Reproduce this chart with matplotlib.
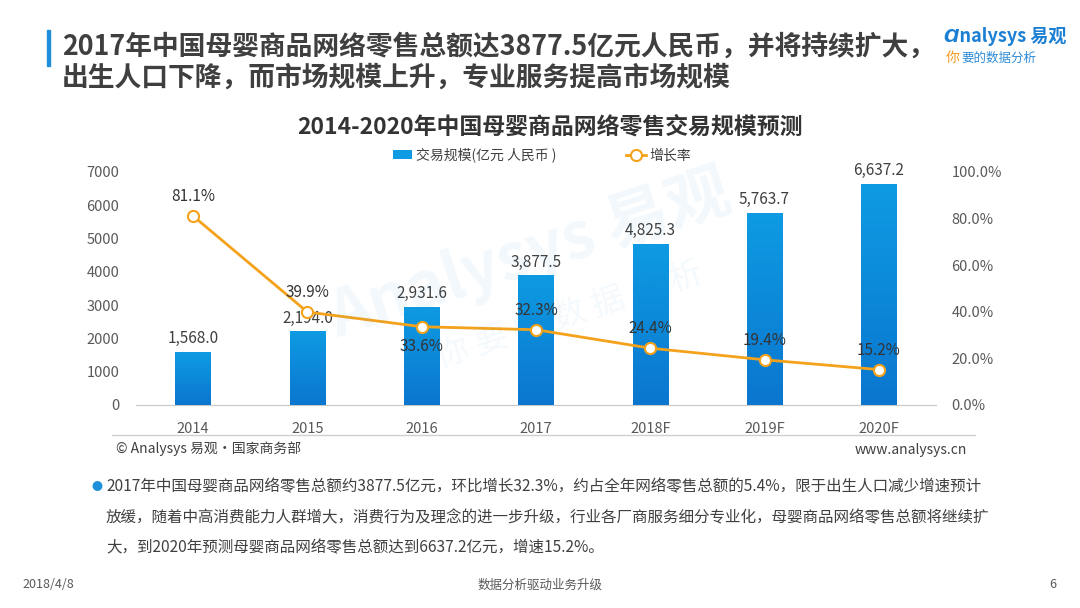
import matplotlib
matplotlib.use("Agg")

import matplotlib.pyplot as plt
import numpy as np
from matplotlib.colors import LinearSegmentedColormap

plt.rcParams['font.family'] = ['Noto Sans CJK SC', 'DejaVu Sans']

# =====================
# Data
# =====================
years = ["2014", "2015", "2016", "2017", "2018F", "2019F", "2020F"]
scale = [1568.0, 2194.0, 2931.6, 3877.5, 4825.3, 5763.7, 6637.2]
growth = [0.811, 0.399, 0.336, 0.323, 0.244, 0.194, 0.152]
growth_below = [False, False, True, False, False, False, False]

left_ticks = [0, 1000, 2000, 3000, 4000, 5000, 6000, 7000]
right_ticks = [0.0, 0.2, 0.4, 0.6, 0.8, 1.0]

BLUE_TOP = "#0E9BE3"
BLUE_BOT = "#0B76CF"
ORANGE = "#F4A21B"
TXT = "#404040"

fig = plt.figure(figsize=(10.8, 6.08), dpi=100)
W, H = 1080, 608


def fx(px):
    return px / W


def fy(py):
    return 1 - py / H


# =====================
# Header
# =====================
fig.patches.append(plt.Rectangle((fx(47), fy(66)), fx(3), 36 / H,
                                 transform=fig.transFigure, color="#1E8FD8"))
fig.text(fx(62), fy(47), "2017年中国母婴商品网络零售总额达3877.5亿元人民币，并将持续扩大，",
         fontsize=19.3, fontweight="bold", color="#3f3f3f", va="center")
fig.text(fx(62), fy(78), "出生人口下降，而市场规模上升，专业服务提高市场规模",
         fontsize=19.3, fontweight="bold", color="#3f3f3f", va="center")

# logo
fig.text(fx(944), fy(37), "Ɑnalysys 易观", fontsize=13, color="#1B7FD4",
         fontweight="bold", va="center", style="italic")
fig.text(fx(946), fy(58), "你", fontsize=10, color="#F39A1E", va="center")
fig.text(fx(961), fy(58), "要的数据分析", fontsize=9, color="#2E8BD6", va="center")

# chart title
fig.text(fx(550), fy(127), "2014-2020年中国母婴商品网络零售交易规模预测",
         fontsize=16.5, fontweight="bold", color="#333333", ha="center", va="center")

# =====================
# Axes
# =====================
ax = fig.add_axes([fx(136), fy(405), 800 / W, 233 / H])
ax2 = ax.twinx()

x = np.arange(len(years))
bar_w = 0.31
bars = ax.bar(x, scale, width=bar_w, color=BLUE_TOP, zorder=2,
              label="交易规模(亿元 人民币 )")

cmap = LinearSegmentedColormap.from_list("bl", [BLUE_BOT, BLUE_TOP])
grad = np.linspace(0, 1, 256).reshape(-1, 1)
for b in bars:
    x0, y0 = b.get_x(), b.get_y()
    ax.imshow(grad, extent=[x0, x0 + b.get_width(), y0, y0 + b.get_height()],
              origin="lower", cmap=cmap, aspect="auto", zorder=3)

for xi, v in zip(x, scale):
    ax.annotate(f"{v:,.1f}", (xi, v), xytext=(0, 10), textcoords="offset points",
                ha="center", va="center", fontsize=11, color=TXT)

ax.set_xlim(-0.5, 6.5)
ax.set_ylim(0, 7000)
ax.set_yticks(left_ticks)
ax.set_yticklabels([str(t) for t in left_ticks])
ax.set_xticks(x)
ax.set_xticklabels(years)

line, = ax2.plot(x, growth, color=ORANGE, lw=2, marker="o", ms=8,
                 mfc="white", mec=ORANGE, mew=1.5, zorder=5, label="增长率")
for xi, g, below in zip(x, growth, growth_below):
    off = -14 if below else 14
    ax2.annotate(f"{g * 100:.1f}%", (xi, g), xytext=(0, off),
                 textcoords="offset points", ha="center", va="center",
                 fontsize=11, color="#333333", zorder=6)
ax2.set_ylim(0, 1)
ax2.set_yticks(right_ticks)
ax2.set_yticklabels([f"{t * 100:.1f}%" for t in right_ticks])

for a in (ax, ax2):
    for s in a.spines.values():
        s.set_visible(False)
    a.tick_params(length=0, labelsize=10.5, labelcolor="#595959")
ax.spines["bottom"].set_visible(True)
ax.spines["bottom"].set_color("#c8c8c8")
ax.tick_params(axis="x", pad=12)
ax.tick_params(axis="y", pad=12)
ax2.tick_params(axis="y", pad=11)
ax.set_zorder(1)
ax2.set_zorder(2)
ax2.patch.set_visible(False)

# legend
h1, l1 = ax.get_legend_handles_labels()
h2, l2 = ax2.get_legend_handles_labels()
fig.legend(h1 + h2, l1 + l2, loc="center", bbox_to_anchor=(fx(542), fy(155)),
           ncol=2, frameon=False, fontsize=10, columnspacing=5,
           handlelength=1.4, handletextpad=0.3, labelcolor=TXT)

# watermark
fig.text(fx(530), fy(255), "Analysys 易观", fontsize=46, color="#1E8FD8",
         alpha=0.06, rotation=18, ha="center", va="center", fontweight="bold")
fig.text(fx(570), fy(315), "你 要 的 数 据 分 析", fontsize=24, color="#1E8FD8",
         alpha=0.05, rotation=18, ha="center", va="center")

# source line
fig.lines.append(plt.Line2D([fx(112), fx(975)], [fy(435), fy(435)],
                            transform=fig.transFigure, color="#d0d0d0", lw=1))
fig.text(fx(116), fy(449), "© Analysys 易观·国家商务部", fontsize=10,
         color="#404040", va="center")
fig.text(fx(967), fy(450), "www.analysys.cn", fontsize=10, color="#404040",
         ha="right", va="center")

# =====================
# Notes
# =====================
fig.text(fx(97), fy(487), "●", fontsize=8, color="#1E8FD8", ha="center", va="center")
notes = [
    "2017年中国母婴商品网络零售总额约3877.5亿元，环比增长32.3%，约占全年网络零售总额的5.4%，限于出生人口减少增速预计",
    "放缓，随着中高消费能力人群增大，消费行为及理念的进一步升级，行业各厂商服务细分专业化，母婴商品网络零售总额将继续扩",
    "大，到2020年预测母婴商品网络零售总额达到6637.2亿元，增速15.2%。",
]
for i, t in enumerate(notes):
    fig.text(fx(106), fy(487 + 30.5 * i), t, fontsize=11.2, color="#404040", va="center")

# footer
fig.text(fx(22), fy(585), "2018/4/8", fontsize=9, color="#595959", va="center")
fig.text(fx(540), fy(585), "数据分析驱动业务升级", fontsize=9, color="#595959",
         ha="center", va="center")
fig.text(fx(1056), fy(585), "6", fontsize=9, color="#595959", ha="right", va="center")

fig.savefig("out.png", dpi=100)
